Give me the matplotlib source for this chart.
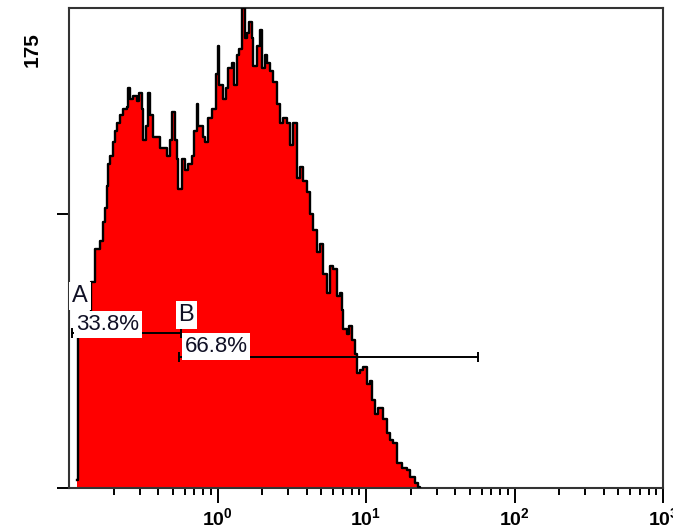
#!/usr/bin/env python3
"""
Histogram fluorescencji (skala log) z bramkami A i B.
"""
import numpy as np
import matplotlib
matplotlib.use("Agg")
import matplotlib.pyplot as plt
from matplotlib.ticker import FixedLocator, NullFormatter

# Dane: pozycja kanału (log10) i liczba zdarzeń
log_channel = [
    -0.948, -0.942, -0.894, -0.854, -0.827, -0.794, -0.773, -0.760, -0.746, -0.740,
    -0.726, -0.706, -0.693, -0.679, -0.659, -0.639, -0.612, -0.605, -0.592, -0.572,
    -0.545, -0.531, -0.511, -0.504, -0.484, -0.471, -0.457, -0.437, -0.410, -0.390,
    -0.370, -0.343, -0.323, -0.309, -0.289, -0.276, -0.269, -0.242, -0.222, -0.202,
    -0.175, -0.161, -0.141, -0.128, -0.101, -0.081, -0.061, -0.034, -0.013, 0.000,
    0.007, 0.034, 0.054, 0.074, 0.101, 0.114, 0.134, 0.148, 0.168, 0.182,
    0.202, 0.215, 0.235, 0.242, 0.269, 0.289, 0.303, 0.323, 0.336, 0.356,
    0.377, 0.403, 0.424, 0.444, 0.471, 0.491, 0.511, 0.538, 0.558, 0.578,
    0.605, 0.625, 0.646, 0.672, 0.693, 0.713, 0.740, 0.760, 0.780, 0.807,
    0.827, 0.841, 0.847, 0.874, 0.888, 0.908, 0.928, 0.941, 0.962, 0.982,
    1.009, 1.029, 1.042, 1.063, 1.083, 1.116, 1.143, 1.163, 1.184, 1.210,
    1.244, 1.278, 1.298, 1.332, 1.352, 1.365,
]
counts = [
    3, 62, 62, 75, 87, 90, 97, 102, 110, 118,
    121, 126, 130, 133, 136, 138, 139, 146, 142, 143,
    141, 144, 138, 127, 132, 144, 136, 128, 128, 124,
    124, 121, 127, 137, 127, 120, 109, 120, 116, 118,
    121, 130, 140, 132, 128, 126, 135, 138, 151, 161,
    147, 142, 146, 153, 155, 147, 158, 160, 175, 164,
    166, 170, 164, 154, 161, 167, 153, 158, 155, 152,
    148, 140, 133, 135, 133, 125, 133, 113, 117, 112,
    108, 100, 94, 86, 89, 78, 71, 81, 80, 70,
    71, 65, 58, 56, 59, 54, 49, 42, 43, 44,
    38, 39, 32, 27, 29, 25, 20, 17.5, 16.4, 9,
    7.3, 6.6, 4, 1.8, 0.4, 0,
]

# Bramki: granice (jednostki kanału) i poziom na osi Y
gate_names = ["A", "B"]
gate_ranges = [(0.105, 0.564), (0.547, 56.9)]
gate_levels = [56.5, 47.8]
gate_pcts = ["33.8%", "66.8%"]
# pozycje etykiet: (x nazwy, y nazwy, x procentu, y procentu)
gate_label_pos = [(0.105, 70.0, 0.112, 59.6), (0.545, 63.0, 0.600, 51.6)]

y_max = 175
y_ticks = [0, 100]
x_major = [1, 10, 100, 1000]
x_major_labels = [r"$\mathbf{10^{0}}$", r"$\mathbf{10^{1}}$",
                  r"$\mathbf{10^{2}}$", r"$\mathbf{10^{3}}$"]

plt.rcParams["font.family"] = "Liberation Sans"
plt.rcParams["mathtext.fontset"] = "custom"
plt.rcParams["mathtext.bf"] = "Liberation Sans:bold"
plt.rcParams["mathtext.rm"] = "Liberation Sans"

fig = plt.figure(figsize=(6.73, 5.30), dpi=100)
ax = fig.add_axes([69 / 673, 42 / 530, 594 / 673, 480 / 530])

x = 10 ** np.array(log_channel)
ax.fill_between(x, counts, step="post", color="#ff0000", linewidth=0, zorder=2)
ax.step(x, counts, where="post", color="black", linewidth=1.7, zorder=3)

# Bramki
for name, (g0, g1), lvl, pct, pos in zip(gate_names, gate_ranges, gate_levels,
                                         gate_pcts, gate_label_pos):
    ax.plot([g0, g1], [lvl, lvl], color="black", linewidth=1.4, zorder=4)
    ax.plot([g0, g1], [lvl, lvl], linestyle="none", marker="|",
            markersize=7, markeredgewidth=1.4, color="black", zorder=4)
    box = dict(facecolor="white", edgecolor="none", pad=2)
    ax.text(pos[0], pos[1], name, fontsize=17, color="#101025", va="center",
            ha="left", bbox=box, zorder=6)
    ax.text(pos[2], pos[3], pct, fontsize=16, color="#101025", va="center",
            ha="left", bbox=box, zorder=6)

ax.set_xscale("log")
ax.set_xlim(0.1, 1000)
ax.set_ylim(0, y_max)

ax.xaxis.set_major_locator(FixedLocator(x_major))
ax.set_xticklabels(x_major_labels)
minor = [m * 10.0 ** d for d in range(-1, 3) for m in range(2, 10)]
ax.xaxis.set_minor_locator(FixedLocator(minor))
ax.xaxis.set_minor_formatter(NullFormatter())
ax.tick_params(axis="x", which="major", direction="out", length=11, width=1.4,
               labelsize=14, pad=3, color="black")
ax.tick_params(axis="x", which="minor", direction="out", length=5, width=1.4,
               color="black")

ax.set_yticks(y_ticks)
ax.set_yticklabels([])
ax.tick_params(axis="y", direction="out", length=9, width=1.4, color="black")
ax.text(-37 / 594, 438 / 480, str(y_max), transform=ax.transAxes, rotation=90,
        fontsize=15, fontweight="bold", ha="center", va="center")

for sp in ax.spines.values():
    sp.set_color("#333333")
    sp.set_linewidth(1.5)

fig.savefig("out.png", dpi=100, facecolor="white")
